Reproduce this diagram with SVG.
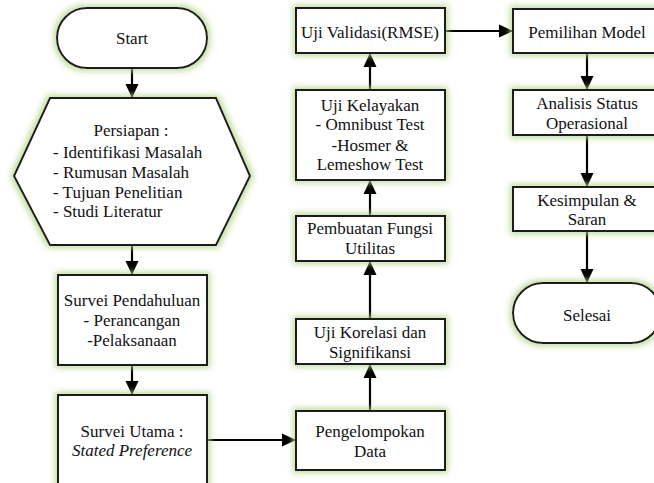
<svg xmlns="http://www.w3.org/2000/svg" width="654" height="483" viewBox="0 0 654 483">
<defs>
<filter id="glow" x="-20%" y="-20%" width="140%" height="140%">
<feMorphology in="SourceAlpha" operator="dilate" radius="2" result="d"/>
<feGaussianBlur in="d" stdDeviation="3" result="b"/>
<feFlood flood-color="#b3d38a" flood-opacity="0.85"/>
<feComposite in2="b" operator="in" result="g"/>
<feMerge><feMergeNode in="g"/><feMergeNode in="SourceGraphic"/></feMerge>
</filter>
<marker id="ah" markerUnits="userSpaceOnUse" markerWidth="16" markerHeight="16" viewBox="0 0 16 16" refX="14" refY="8" orient="auto">
<path d="M0,1.5 L14,8 L0,14.5 Z" fill="#000"/>
</marker>
</defs>
<style>
.n{fill:#fff;stroke:#1a1a1a;stroke-width:2;filter:url(#glow)}
.t{font-family:'Liberation Serif','Times New Roman','DejaVu Serif',serif;font-size:17px;fill:#111;text-anchor:middle}
.l{text-anchor:start}
.c{stroke:#000;stroke-width:2.2;fill:none;marker-end:url(#ah)}
</style>
<rect width="654" height="483" fill="#fff"/>
<g id="connectors">
<line class="c" x1="132" y1="69" x2="132" y2="98"/>
<line class="c" x1="132" y1="245" x2="132" y2="275"/>
<line class="c" x1="132" y1="365" x2="132" y2="395"/>
<line class="c" x1="207" y1="440" x2="296" y2="440"/>
<line class="c" x1="370" y1="411" x2="370" y2="364"/>
<line class="c" x1="370" y1="319" x2="370" y2="261"/>
<line class="c" x1="370" y1="216" x2="370" y2="180"/>
<line class="c" x1="370" y1="90" x2="370" y2="53"/>
<line class="c" x1="445" y1="31" x2="513" y2="31"/>
<line class="c" x1="587" y1="53" x2="587" y2="90"/>
<line class="c" x1="587" y1="135" x2="587" y2="187"/>
<line class="c" x1="587" y1="231" x2="587" y2="283"/>
</g>
<g id="start">
<rect class="n" x="57" y="8" width="150" height="60" rx="30"/>
<text class="t" x="132" y="44">Start</text>
</g>
<g id="persiapan">
<polygon class="n" points="50,98 216,98 250,176 216,245 50,245 14,176"/>
<text class="t" x="131" y="136">Persiapan :</text>
<text class="t l" x="53" y="158">- Identifikasi Masalah</text>
<text class="t l" x="53" y="178">- Rumusan Masalah</text>
<text class="t l" x="53" y="198">- Tujuan Penelitian</text>
<text class="t l" x="53" y="217">- Studi Literatur</text>
</g>
<g id="survei-pendahuluan">
<rect class="n" x="58" y="275" width="149" height="90"/>
<text class="t" x="132" y="306">Survei Pendahuluan</text>
<text class="t" x="132" y="326">- Perancangan</text>
<text class="t" x="132" y="346">-Pelaksanaan</text>
</g>
<g id="survei-utama">
<rect class="n" x="58" y="395" width="149" height="100"/>
<text class="t" x="132" y="437">Survei Utama :</text>
<text class="t" x="132" y="456" font-style="italic">Stated Preference</text>
</g>
<g id="pengelompokan">
<rect class="n" x="296" y="411" width="149" height="59"/>
<text class="t" x="370" y="437">Pengelompokan</text>
<text class="t" x="370" y="457">Data</text>
</g>
<g id="uji-korelasi">
<rect class="n" x="296" y="319" width="149" height="45"/>
<text class="t" x="370" y="338">Uji Korelasi dan</text>
<text class="t" x="370" y="358">Signifikansi</text>
</g>
<g id="pembuatan">
<rect class="n" x="296" y="216" width="149" height="45"/>
<text class="t" x="370" y="234">Pembuatan Fungsi</text>
<text class="t" x="370" y="254">Utilitas</text>
</g>
<g id="uji-kelayakan">
<rect class="n" x="296" y="90" width="149" height="90"/>
<text class="t" x="370" y="111">Uji Kelayakan</text>
<text class="t" x="370" y="130">- Omnibust Test</text>
<text class="t" x="370" y="151">-Hosmer &amp;</text>
<text class="t" x="370" y="170">Lemeshow Test</text>
</g>
<g id="uji-validasi">
<rect class="n" x="296" y="8" width="149" height="45"/>
<text class="t" x="370" y="38">Uji Validasi(RMSE)</text>
</g>
<g id="pemilihan">
<rect class="n" x="513" y="9" width="148" height="44"/>
<text class="t" x="587" y="38">Pemilihan Model</text>
</g>
<g id="analisis">
<rect class="n" x="513" y="90" width="148" height="45"/>
<text class="t" x="587" y="109">Analisis Status</text>
<text class="t" x="587" y="129">Operasional</text>
</g>
<g id="kesimpulan">
<rect class="n" x="513" y="187" width="148" height="44"/>
<text class="t" x="587" y="206">Kesimpulan &amp;</text>
<text class="t" x="587" y="225">Saran</text>
</g>
<g id="selesai">
<rect class="n" x="513" y="283" width="148" height="60" rx="30"/>
<text class="t" x="587" y="321">Selesai</text>
</g>
</svg>
